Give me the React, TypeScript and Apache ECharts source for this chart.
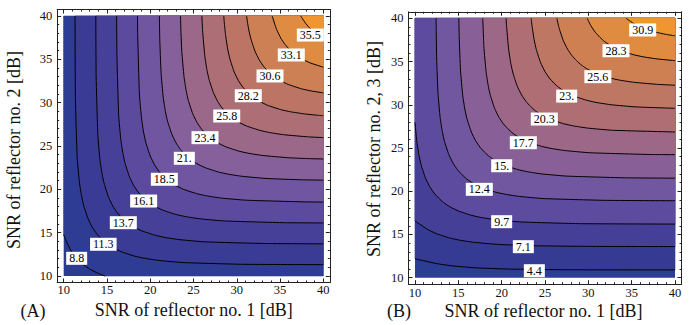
import React, { useEffect, useRef } from 'react';
import * as echarts from 'echarts';

const SERIF = 'Liberation Serif';

// ---------- Panel A ----------
const levelsA = ['8.8', '11.3', '13.7', '16.1', '18.5', '21.', '23.4', '25.8', '28.2', '30.6', '33.1', '35.5'];
const contoursA: number[][][] = [
  [[10, 14.75], [10.3, 14.0], [10.8, 13.0], [11.3, 12.3], [11.75, 11.75], [12.3, 11.3], [13.0, 10.8], [14.0, 10.3], [14.75, 10]],
  [[11.31, 40], [11.35, 30.7], [11.55, 23.8], [11.8, 20.94], [12.05, 19.3], [12.3, 18.17], [12.8, 16.65], [13.3, 15.63], [13.8, 14.89], [14.32, 14.32], [14.89, 13.8], [15.63, 13.3], [16.65, 12.8], [18.17, 12.3], [19.3, 12.05], [20.94, 11.8], [23.8, 11.55], [30.7, 11.35], [40, 11.31]],
  [[13.71, 40], [13.75, 33.1], [13.95, 26.2], [14.2, 23.34], [14.45, 21.7], [14.7, 20.57], [15.2, 19.05], [15.7, 18.03], [16.2, 17.29], [16.72, 16.72], [17.29, 16.2], [18.03, 15.7], [19.05, 15.2], [20.57, 14.7], [21.7, 14.45], [23.34, 14.2], [26.2, 13.95], [33.1, 13.75], [40, 13.71]],
  [[16.12, 40], [16.15, 35.5], [16.35, 28.6], [16.6, 25.74], [16.85, 24.1], [17.1, 22.97], [17.6, 21.45], [18.1, 20.43], [18.6, 19.69], [19.12, 19.12], [19.69, 18.6], [20.43, 18.1], [21.45, 17.6], [22.97, 17.1], [24.1, 16.85], [25.74, 16.6], [28.6, 16.35], [35.5, 16.15], [40, 16.12]],
  [[18.53, 40], [18.55, 37.9], [18.75, 31.0], [19.0, 28.14], [19.25, 26.5], [19.5, 25.37], [20.0, 23.85], [20.5, 22.83], [21.0, 22.09], [21.52, 21.52], [22.09, 21.0], [22.83, 20.5], [23.85, 20.0], [25.37, 19.5], [26.5, 19.25], [28.14, 19.0], [31.0, 18.75], [37.9, 18.55], [40, 18.53]],
  [[21.06, 40], [21.1, 37.4], [21.25, 33.5], [21.5, 30.64], [21.75, 29.0], [22.0, 27.87], [22.5, 26.35], [23.0, 25.33], [23.5, 24.59], [24.02, 24.02], [24.59, 23.5], [25.33, 23.0], [26.35, 22.5], [27.87, 22.0], [29.0, 21.75], [30.64, 21.5], [33.5, 21.25], [37.4, 21.1], [40, 21.06]],
  [[23.5, 40], [23.55, 38.1], [23.65, 35.9], [23.9, 33.04], [24.15, 31.4], [24.4, 30.27], [24.9, 28.75], [25.4, 27.73], [25.9, 26.99], [26.42, 26.42], [26.99, 25.9], [27.73, 25.4], [28.75, 24.9], [30.27, 24.4], [31.4, 24.15], [33.04, 23.9], [35.9, 23.65], [38.1, 23.55], [40, 23.5]],
  [[25.97, 40], [26.05, 38.3], [26.3, 35.44], [26.55, 33.8], [26.8, 32.67], [27.3, 31.15], [27.8, 30.13], [28.3, 29.39], [28.82, 28.82], [29.39, 28.3], [30.13, 27.8], [31.15, 27.3], [32.67, 26.8], [33.8, 26.55], [35.44, 26.3], [38.3, 26.05], [40, 25.97]],
  [[28.5, 40], [28.55, 39.3], [28.7, 37.84], [28.95, 36.2], [29.2, 35.07], [29.7, 33.55], [30.2, 32.53], [30.7, 31.79], [31.22, 31.22], [31.79, 30.7], [32.53, 30.2], [33.55, 29.7], [35.07, 29.2], [36.2, 28.95], [37.84, 28.7], [39.3, 28.55], [40, 28.5]],
  [[31.13, 40], [31.35, 38.6], [31.6, 37.47], [32.1, 35.95], [32.6, 34.93], [33.1, 34.19], [33.62, 33.62], [34.19, 33.1], [34.93, 32.6], [35.95, 32.1], [37.47, 31.6], [38.6, 31.35], [40, 31.13]],
  [[34.09, 40], [34.6, 38.45], [35.1, 37.43], [35.6, 36.69], [36.12, 36.12], [36.69, 35.6], [37.43, 35.1], [38.45, 34.6], [40, 34.09]],
  [[37.4, 40], [37.5, 39.83], [38.0, 39.09], [38.52, 38.52], [39.09, 38.0], [39.83, 37.5], [40, 37.4]],
];
const labelPosA: number[][] = [
  [11.5, 12.04], [14.58, 13.66], [16.89, 16.15], [19.24, 18.65], [21.63, 21.16], [23.94, 23.58],
  [26.33, 25.96], [28.84, 28.46], [31.33, 30.8], [33.84, 33.08], [36.3, 35.5], [38.5, 37.8],
];
const bandColorsA = ['#2b3b92', '#2f3c93', '#393b94', '#474098', '#5b4a9e', '#7056a0', '#86609a', '#9c688a', '#ad6e76', '#bc7564', '#cd8053', '#df8b41', '#f09530'];

// ---------- Panel B ----------
const levelsB = ['4.4', '7.1', '9.7', '12.4', '15.', '17.7', '20.3', '23.', '25.6', '28.3', '30.9'];
const contoursB: number[][][] = [
  [[10, 12.2], [11.27, 11.9], [12.4, 11.65], [14.04, 11.4], [16.9, 11.15], [20.8, 11.0], [27.8, 10.92], [40, 10.9]],
  [[10, 16.55], [10.69, 16.1], [11.43, 15.6], [12.45, 15.1], [13.97, 14.6], [15.1, 14.35], [16.74, 14.1], [19.6, 13.85], [23.5, 13.7], [30.5, 13.62], [40, 13.6]],
  [[10, 27.96], [10.2, 25.84], [10.45, 24.2], [10.7, 23.07], [11.2, 21.55], [11.7, 20.53], [12.2, 19.79], [12.72, 19.22], [13.29, 18.7], [14.03, 18.2], [15.05, 17.7], [16.57, 17.2], [17.7, 16.95], [19.34, 16.7], [22.2, 16.45], [29.1, 16.25], [40, 16.2]],
  [[12.43, 40], [12.45, 38.3], [12.5, 35.3], [12.65, 31.4], [12.9, 28.54], [13.15, 26.9], [13.4, 25.77], [13.9, 24.25], [14.4, 23.23], [14.9, 22.49], [15.42, 21.92], [15.99, 21.4], [16.73, 20.9], [17.75, 20.4], [19.27, 19.9], [20.4, 19.65], [22.04, 19.4], [24.9, 19.15], [31.8, 18.95], [40, 18.9]],
  [[15.06, 40], [15.1, 37.9], [15.25, 34.0], [15.5, 31.14], [15.75, 29.5], [16.0, 28.37], [16.5, 26.85], [17.0, 25.83], [17.5, 25.09], [18.02, 24.52], [18.59, 24.0], [19.33, 23.5], [20.35, 23.0], [21.87, 22.5], [23.0, 22.25], [24.64, 22.0], [27.5, 21.75], [34.4, 21.55], [40, 21.51]],
  [[17.82, 40], [17.95, 36.7], [18.2, 33.84], [18.45, 32.2], [18.7, 31.07], [19.2, 29.55], [19.7, 28.53], [20.2, 27.79], [20.72, 27.22], [21.29, 26.7], [22.03, 26.2], [23.05, 25.7], [24.57, 25.2], [25.7, 24.95], [27.34, 24.7], [30.2, 24.45], [37.1, 24.25], [40, 24.23]],
  [[20.51, 40], [20.55, 39.3], [20.8, 36.44], [21.05, 34.8], [21.3, 33.67], [21.8, 32.15], [22.3, 31.13], [22.8, 30.39], [23.32, 29.82], [23.89, 29.3], [24.63, 28.8], [25.65, 28.3], [27.17, 27.8], [28.3, 27.55], [29.94, 27.3], [32.8, 27.05], [40, 26.85]],
  [[23.41, 40], [23.5, 39.14], [23.75, 37.5], [24.0, 36.37], [24.5, 34.85], [25.0, 33.83], [25.5, 33.09], [26.02, 32.52], [26.59, 32.0], [27.33, 31.5], [28.35, 31.0], [29.87, 30.5], [31.0, 30.25], [32.64, 30.0], [35.5, 29.75], [40, 29.59]],
  [[26.37, 40], [26.6, 38.97], [27.1, 37.45], [27.6, 36.43], [28.1, 35.69], [28.62, 35.12], [29.19, 34.6], [29.93, 34.1], [30.95, 33.6], [32.47, 33.1], [33.6, 32.85], [35.24, 32.6], [38.1, 32.35], [40, 32.26]],
  [[29.86, 40], [30.3, 39.13], [30.8, 38.39], [31.32, 37.82], [31.89, 37.3], [32.63, 36.8], [33.65, 36.3], [35.17, 35.8], [36.3, 35.55], [37.94, 35.3], [40, 35.1]],
  [[34.36, 40], [34.49, 39.9], [35.23, 39.4], [36.25, 38.9], [37.77, 38.4], [38.9, 38.15], [40, 37.97]],
];
const labelPosB: number[][] = [
  [23.77, 10.81], [22.5, 13.59], [20.0, 16.48], [17.42, 20.22], [20.0, 22.95], [22.5, 25.61],
  [24.92, 28.35], [27.5, 31.0], [31.1, 33.25], [33.19, 36.25], [36.27, 38.65],
];
const bandColorsB = ['#2c3d94', '#353b93', '#453f98', '#5c4b9f', '#7157a0', '#886097', '#9d6887', '#ae6e74', '#be7763', '#ce8052', '#e08c40', '#f0962e'];

// ---------- Axes ----------
const majorTicks = [10, 15, 20, 25, 30, 35, 40];
const minorTicks = [11, 12, 13, 14, 16, 17, 18, 19, 21, 22, 23, 24, 26, 27, 28, 29, 31, 32, 33, 34, 36, 37, 38, 39];
const AX_MIN = 9.25;
const AX_MAX = 40.75;
const DATA_MIN = 10;
const DATA_MAX = 40;

function makeRender(contours: number[][][], colors: string[]) {
  return (_params: any, api: any) => {
    const i = api.value(0);
    if (i < 0) {
      const p1 = api.coord([DATA_MIN, DATA_MAX]);
      const p2 = api.coord([DATA_MAX, DATA_MIN]);
      return {
        type: 'rect',
        shape: { x: p1[0], y: p1[1], width: p2[0] - p1[0], height: p2[1] - p1[1] },
        style: { fill: colors[0] },
      };
    }
    const pts = contours[i];
    const start = pts[0];
    const end = pts[pts.length - 1];
    const poly = pts.slice();
    if (end[1] <= DATA_MIN) poly.push([DATA_MAX, DATA_MIN]);
    poly.push([DATA_MAX, DATA_MAX]);
    if (start[0] <= DATA_MIN) poly.push([DATA_MIN, DATA_MAX]);
    const polyPx = poly.map((p) => api.coord(p));
    const linePx = pts.map((p) => api.coord(p));
    return {
      type: 'group',
      children: [
        { type: 'polygon', shape: { points: polyPx }, style: { fill: colors[i + 1], stroke: colors[i + 1], lineWidth: 0.6 } },
        { type: 'polyline', shape: { points: linePx, smooth: 0.15 }, style: { stroke: '#000', lineWidth: 1, fill: null } },
      ],
    };
  };
}

function makeLabelRender(pos: number[][], levels: string[]) {
  return (_params: any, api: any) => {
    const i = api.value(0);
    const p = api.coord(pos[i]);
    return {
      type: 'text',
      x: p[0],
      y: p[1],
      style: {
        text: levels[i],
        fill: '#000',
        fontFamily: SERIF,
        fontSize: 12,
        align: 'center',
        verticalAlign: 'middle',
        backgroundColor: '#ffffff',
        padding: [1, 3, 0, 3],
        lineHeight: 12,
      },
    };
  };
}

const tickLabelStyle = { color: '#111', fontFamily: SERIF, fontSize: 12.5 };

function xAxes(gridIndex: number, margin: number) {
  const base = { type: 'value', gridIndex, min: AX_MIN, max: AX_MAX, splitLine: { show: false } };
  return [
    {
      ...base, position: 'bottom',
      axisLine: { show: true, onZero: false, lineStyle: { color: '#222', width: 1 } },
      axisTick: { show: true, inside: true, length: 4, customValues: majorTicks, lineStyle: { color: '#222' } },
      axisLabel: { show: true, customValues: majorTicks, margin, ...tickLabelStyle },
    },
    {
      ...base, position: 'top',
      axisLine: { show: true, onZero: false, lineStyle: { color: '#222', width: 1 } },
      axisTick: { show: true, inside: true, length: 4, customValues: majorTicks, lineStyle: { color: '#222' } },
      axisLabel: { show: false },
    },
    {
      ...base, position: 'bottom',
      axisLine: { show: false, onZero: false },
      axisTick: { show: true, inside: true, length: 2, customValues: minorTicks, lineStyle: { color: '#222' } },
      axisLabel: { show: false },
    },
    {
      ...base, position: 'top',
      axisLine: { show: false, onZero: false },
      axisTick: { show: true, inside: true, length: 2, customValues: minorTicks, lineStyle: { color: '#222' } },
      axisLabel: { show: false },
    },
  ];
}

function yAxes(gridIndex: number) {
  const base = { type: 'value', gridIndex, min: AX_MIN, max: AX_MAX, splitLine: { show: false } };
  return [
    {
      ...base, position: 'left',
      axisLine: { show: true, onZero: false, lineStyle: { color: '#222', width: 1 } },
      axisTick: { show: true, inside: true, length: 4, customValues: majorTicks, lineStyle: { color: '#222' } },
      axisLabel: { show: true, customValues: majorTicks, margin: 5, ...tickLabelStyle },
    },
    {
      ...base, position: 'right',
      axisLine: { show: true, onZero: false, lineStyle: { color: '#222', width: 1 } },
      axisTick: { show: true, inside: true, length: 4, customValues: majorTicks, lineStyle: { color: '#222' } },
      axisLabel: { show: false },
    },
    {
      ...base, position: 'left',
      axisLine: { show: false, onZero: false },
      axisTick: { show: true, inside: true, length: 2, customValues: minorTicks, lineStyle: { color: '#222' } },
      axisLabel: { show: false },
    },
    {
      ...base, position: 'right',
      axisLine: { show: false, onZero: false },
      axisTick: { show: true, inside: true, length: 2, customValues: minorTicks, lineStyle: { color: '#222' } },
      axisLabel: { show: false },
    },
  ];
}

function contourSeries(axisIndex: number, contours: number[][][], colors: string[]) {
  return {
    type: 'custom',
    xAxisIndex: axisIndex,
    yAxisIndex: axisIndex,
    silent: true,
    renderItem: makeRender(contours, colors),
    data: [[-1, 0], ...contours.map((_c, i) => [i, 0])],
    z: 2,
  };
}

function labelSeries(axisIndex: number, pos: number[][], levels: string[]) {
  return {
    type: 'custom',
    xAxisIndex: axisIndex,
    yAxisIndex: axisIndex,
    silent: true,
    renderItem: makeLabelRender(pos, levels),
    data: pos.map((_p, i) => [i, 0]),
    z: 5,
  };
}

function textEl(x: number, y: number, text: string, rotate = false) {
  return {
    type: 'text', x, y, rotation: rotate ? Math.PI / 2 : 0, silent: true,
    style: {
      text, fill: '#111', fontFamily: SERIF, fontSize: 18,
      align: 'center', verticalAlign: 'middle',
    },
  };
}

export default function App() {
  const ref = useRef<HTMLDivElement>(null);
  useEffect(() => {
    if (!ref.current) return;
    const chart = echarts.init(ref.current, null, { renderer: 'svg' });
    chart.setOption({
      animation: false,
      backgroundColor: '#fff',
      textStyle: { fontFamily: SERIF },
      grid: [
        { left: 57.2, top: 9.5, width: 272.6, height: 273 },
        { left: 408.5, top: 11.8, width: 273, height: 272.4 },
      ],
      xAxis: [...xAxes(0, 1), ...xAxes(1, 2)],
      yAxis: [...yAxes(0), ...yAxes(1)],
      series: [
        contourSeries(0, contoursA, bandColorsA),
        labelSeries(0, labelPosA, levelsA),
        contourSeries(4, contoursB, bandColorsB),
        labelSeries(4, labelPosB, levelsB),
      ],
      graphic: [
        textEl(193.7, 310, 'SNR of reflector no. 1 [dB]'),
        textEl(14, 150, 'SNR of reflector no. 2 [dB]', true),
        textEl(33, 311, '(A)'),
        textEl(543.5, 311, 'SNR of reflector no. 1 [dB]'),
        textEl(373.5, 149, 'SNR of reflector no. 2, 3 [dB]', true),
        textEl(399, 311, '(B)'),
      ],
    });
    return () => chart.dispose();
  }, []);
  return <div ref={ref} style={{ position: 'fixed', left: 0, top: 0, width: 691, height: 325 }} />;
}
